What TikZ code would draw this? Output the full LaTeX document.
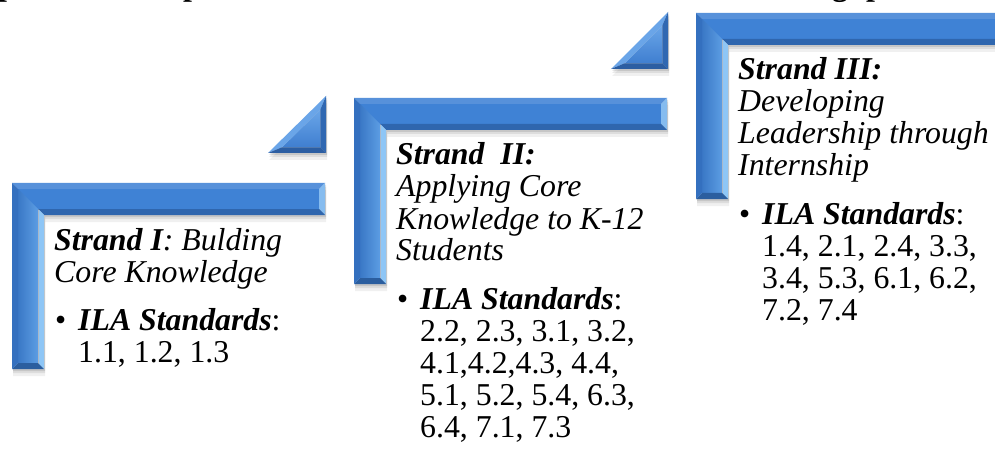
\documentclass[tikz,border=0pt]{standalone}
\usepackage{fontspec}
\setmainfont{Liberation Serif}
\usetikzlibrary{calc}

% bevel palette
\definecolor{barface}{HTML}{3F82D5}
\definecolor{barshadeL}{HTML}{3A78C6}
\definecolor{barshadeR}{HTML}{5C9DE3}
\definecolor{bartopc}{HTML}{5791DA}
\definecolor{barleftc}{HTML}{3470BF}
\definecolor{barendc}{HTML}{86BCEF}
\definecolor{barunderc}{HTML}{2F66AE}
\definecolor{barinnerc}{HTML}{8EC6F6}
\definecolor{barbottomc}{HTML}{2B5E9F}
\definecolor{wedgeface}{HTML}{3F7FD0}
\definecolor{wedgehyp}{HTML}{6AA5E8}
\definecolor{wedgeright}{HTML}{3068B2}
\definecolor{wedgebottom}{HTML}{2C5EA2}

\newcommand\lns[1]{\vtop{\baselineskip=32pt\lineskiplimit=-50pt\lineskip=0pt #1}}

% L-shaped bevelled bar: #1 left, #2 top, #3 right, #4 bottom
\newcommand\bentbar[4]{%
  \foreach \s/\o in {2/0.10,4/0.08,7/0.06}{
    \fill[black,opacity=\o,shift={(1,\s)}] (#1,#2) -- (#3,#2) -- (#3,#2+32)
      -- (#1+32,#2+32) -- (#1+32,#4) -- (#1,#4) -- cycle;
  }
  \fill[barface] (#1+6,#2+6) -- (#3-6,#2+6) -- (#3-6,#2+26) -- (#1+26,#2+26)
    -- (#1+26,#4-6) -- (#1+6,#4-6) -- cycle;
  \shade[left color=barshadeL,right color=barshadeR] (#1+6,#2+6) -- (#1+26,#2+26)
    -- (#1+26,#4-6) -- (#1+6,#4-6) -- cycle;
  \fill[bartopc] (#1,#2) -- (#3,#2) -- (#3-6,#2+6) -- (#1+6,#2+6) -- cycle;
  \fill[barendc] (#3,#2) -- (#3,#2+32) -- (#3-6,#2+26) -- (#3-6,#2+6) -- cycle;
  \fill[barunderc] (#3,#2+32) -- (#1+32,#2+32) -- (#1+26,#2+26) -- (#3-6,#2+26) -- cycle;
  \fill[barinnerc] (#1+32,#2+32) -- (#1+32,#4) -- (#1+27,#4-5) -- (#1+27,#2+27) -- cycle;
  \fill[barbottomc] (#1+32,#4) -- (#1,#4) -- (#1+6,#4-6) -- (#1+26,#4-6) -- cycle;
  \fill[barleftc] (#1,#4) -- (#1,#2) -- (#1+6,#2+6) -- (#1+6,#4-6) -- cycle;
}

% right-angled bevelled wedge: #1 left, #2 top, #3 right, #4 bottom
\newcommand\stepwedge[4]{%
  \foreach \s/\o in {2/0.10,4/0.08,7/0.06}{
    \fill[black,opacity=\o,shift={(1,\s)}] (#1,#4) -- (#3,#2) -- (#3,#4) -- cycle;
  }
  \coordinate (wp) at (#1,#4);
  \coordinate (wq) at (#3,#2);
  \coordinate (wr) at (#3,#4);
  \coordinate (wi) at (#3-16.7,#4-16.7);
  \coordinate (wp') at ($(wi)!0.66!(wp)$);
  \coordinate (wq') at ($(wi)!0.66!(wq)$);
  \coordinate (wr') at ($(wi)!0.66!(wr)$);
  \shade[top color=wedgehyp,bottom color=wedgeface] (wp') -- (wq') -- (wr') -- cycle;
  \fill[wedgehyp] (wp) -- (wq) -- (wq') -- (wp') -- cycle;
  \fill[wedgeright] (wq) -- (wr) -- (wr') -- (wq') -- cycle;
  \fill[wedgebottom] (wr) -- (wp) -- (wp') -- (wr') -- cycle;
}

\tikzset{
  headtext/.style={anchor=base west,inner sep=0pt,
    font=\fontsize{31.8}{32}\selectfont\itshape},
  stdtext/.style={anchor=base west,inner sep=0pt,
    font=\fontsize{31.8}{32}\selectfont},
  titlefrag/.style={anchor=base west,inner sep=0pt,
    font=\fontsize{32}{32}\selectfont\bfseries},
}

\begin{document}
\begin{tikzpicture}[x=1pt,y=-1pt]
  \useasboundingbox (0,0) rectangle (995,449);
  \clip (0,0) rectangle (995,449);
  \fill[white] (0,0) rectangle (995,449);

  % heading line above, mostly outside the frame
  \node[titlefrag] (t1) at (-2,-4.5) {p};
  \node[titlefrag] (t2) at (183,-4.5) {p};
  \node[titlefrag] (t3) at (832,-4.5) {g};
  \node[titlefrag] (t4) at (866,-4.5) {p};

  % bars and wedges
  \bentbar{12}{183}{325}{369}
  \stepwedge{268}{96}{326}{153}
  \bentbar{354}{98}{667}{284}
  \stepwedge{611}{12}{668}{69}
  \bentbar{696}{13}{1009}{199}

  % Strand I
  \node[headtext] (h1) at (54,250)
    {\lns{\hbox{\bfseries Strand I\mdseries: Bulding}\hbox{Core Knowledge}}};
  \node[stdtext] (b1) at (55,330) {•};
  \node[stdtext] (l1) at (78,330)
    {\lns{\hbox{\bfseries\itshape ILA Standards\mdseries\upshape:}\hbox{1.1, 1.2, 1.3}}};

  % Strand II
  \node[headtext] (h2) at (396,165)
    {\lns{\hbox{\bfseries Strand\ \ II:}\hbox{Applying Core}\hbox{Knowledge to K-12}\hbox{Students}}};
  \node[stdtext] (b2) at (397,309) {•};
  \node[stdtext] (l2) at (420,309)
    {\lns{\hbox{\bfseries\itshape ILA Standards\mdseries\upshape:}\hbox{2.2, 2.3, 3.1, 3.2,}%
      \hbox{4.1,4.2,4.3, 4.4,}\hbox{5.1, 5.2, 5.4, 6.3,}\hbox{6.4, 7.1, 7.3}}};

  % Strand III
  \node[headtext] (h3) at (738,80)
    {\lns{\hbox{\bfseries Strand III:}\hbox{Developing}\hbox{Leadership through}\hbox{Internship}}};
  \node[stdtext] (b3) at (739,224) {•};
  \node[stdtext] (l3) at (762,224)
    {\lns{\hbox{\bfseries\itshape ILA Standards\mdseries\upshape:}\hbox{1.4, 2.1, 2.4, 3.3,}%
      \hbox{3.4, 5.3, 6.1, 6.2,}\hbox{7.2, 7.4}}};
\end{tikzpicture}
\end{document}
